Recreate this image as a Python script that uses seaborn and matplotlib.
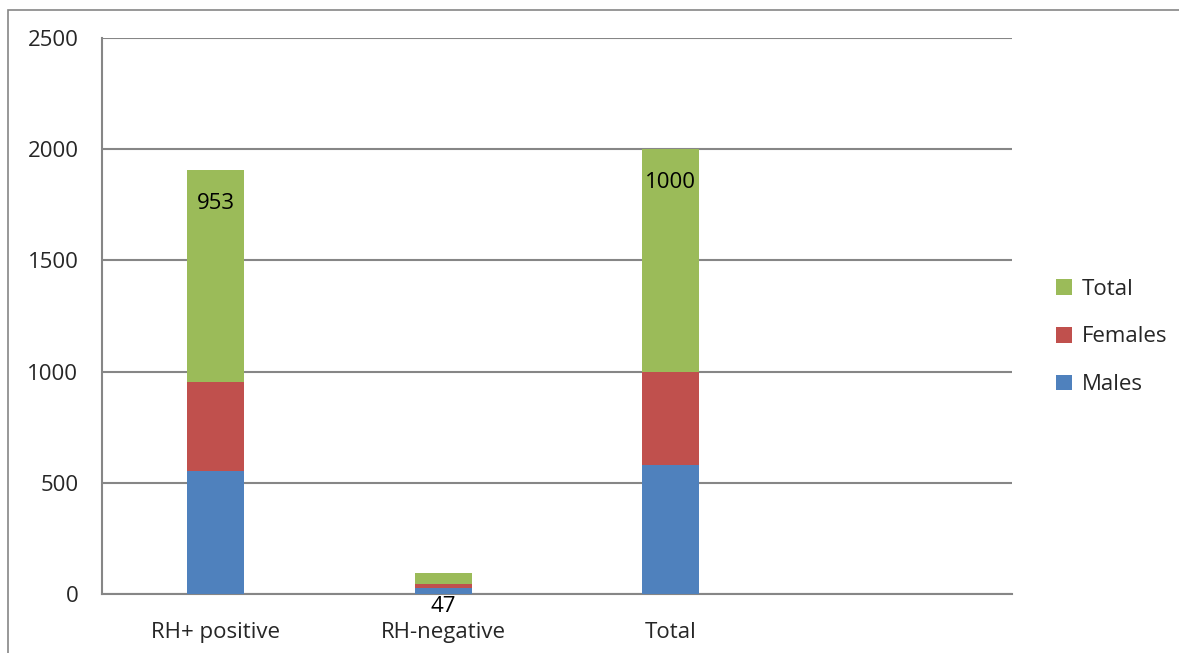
import matplotlib
matplotlib.use("Agg")
import matplotlib.pyplot as plt
import seaborn as sns
import numpy as np
import pandas as pd
from matplotlib.patches import Rectangle, Patch

categories = ["RH+ positive", "RH-negative", "Total"]
males = [555, 25, 580]
females = [398, 22, 420]
total = [953, 47, 1000]
total_labels = ["953", "47", "1000"]

colors = {"Males": "#4F81BD", "Females": "#C0504D", "Total": "#9BBB59"}

sns.set_style("white")
plt.rcParams["font.family"] = ["Open Sans", "DejaVu Sans"]
FS = 16

fig = plt.figure(figsize=(11.79, 6.53), dpi=100)
ax = fig.add_axes([102/1179, 1-594/653, (1012-102)/1179, (594-38)/653])

df = pd.DataFrame({"cat": categories, "Males": males, "Females": females, "Total": total})
df["c1"] = df["Males"]
df["c2"] = df["Males"] + df["Females"]
df["c3"] = df["c2"] + df["Total"]

w = 0.250
sns.barplot(data=df, x="cat", y="c3", color=colors["Total"], saturation=1, width=w, ax=ax, zorder=3)
sns.barplot(data=df, x="cat", y="c2", color=colors["Females"], saturation=1, width=w, ax=ax, zorder=3)
sns.barplot(data=df, x="cat", y="c1", color=colors["Males"], saturation=1, width=w, ax=ax, zorder=3)
for p in ax.patches:
    p.set_edgecolor("none")
    p.set_linewidth(0)

for i, (top, lab) in enumerate(zip(df["c3"], total_labels)):
    ax.annotate(lab, xy=(i, top), xytext=(0, -24), textcoords="offset points",
                ha="center", va="center", fontsize=FS, color="#000000", zorder=5)

ax.set_xlim(-0.5, 3.5)
ax.set_ylim(0, 2500)
ax.set_yticks([0, 500, 1000, 1500, 2000, 2500])
ax.yaxis.grid(True, color="#868686", linewidth=1.5, zorder=0)
ax.set_axisbelow(True)
ax.set_xlabel("")
ax.set_ylabel("")
for s in ["top", "right"]:
    ax.spines[s].set_visible(False)
for s in ["left", "bottom"]:
    ax.spines[s].set_color("#868686")
    ax.spines[s].set_linewidth(1.5)
ax.tick_params(axis="y", length=0, pad=17, labelsize=FS)
ax.tick_params(axis="x", length=0, pad=20, labelsize=FS)

handles = [Patch(facecolor=colors[k], edgecolor="none", label=k) for k in ["Total", "Females", "Males"]]
fig.legend(handles=handles, loc="center left", bbox_to_anchor=(1036/1179, 1-337/653),
           frameon=False, fontsize=FS, handlelength=0.7, handleheight=0.7,
           handletextpad=0.45, labelspacing=1.2)

fig.add_artist(Rectangle((8/1179, -0.1), 1.2, (653-10)/653 + 0.1, transform=fig.transFigure,
                         fill=False, edgecolor="#868686", linewidth=1.2, clip_on=False))

fig.savefig("out.png", dpi=100)
